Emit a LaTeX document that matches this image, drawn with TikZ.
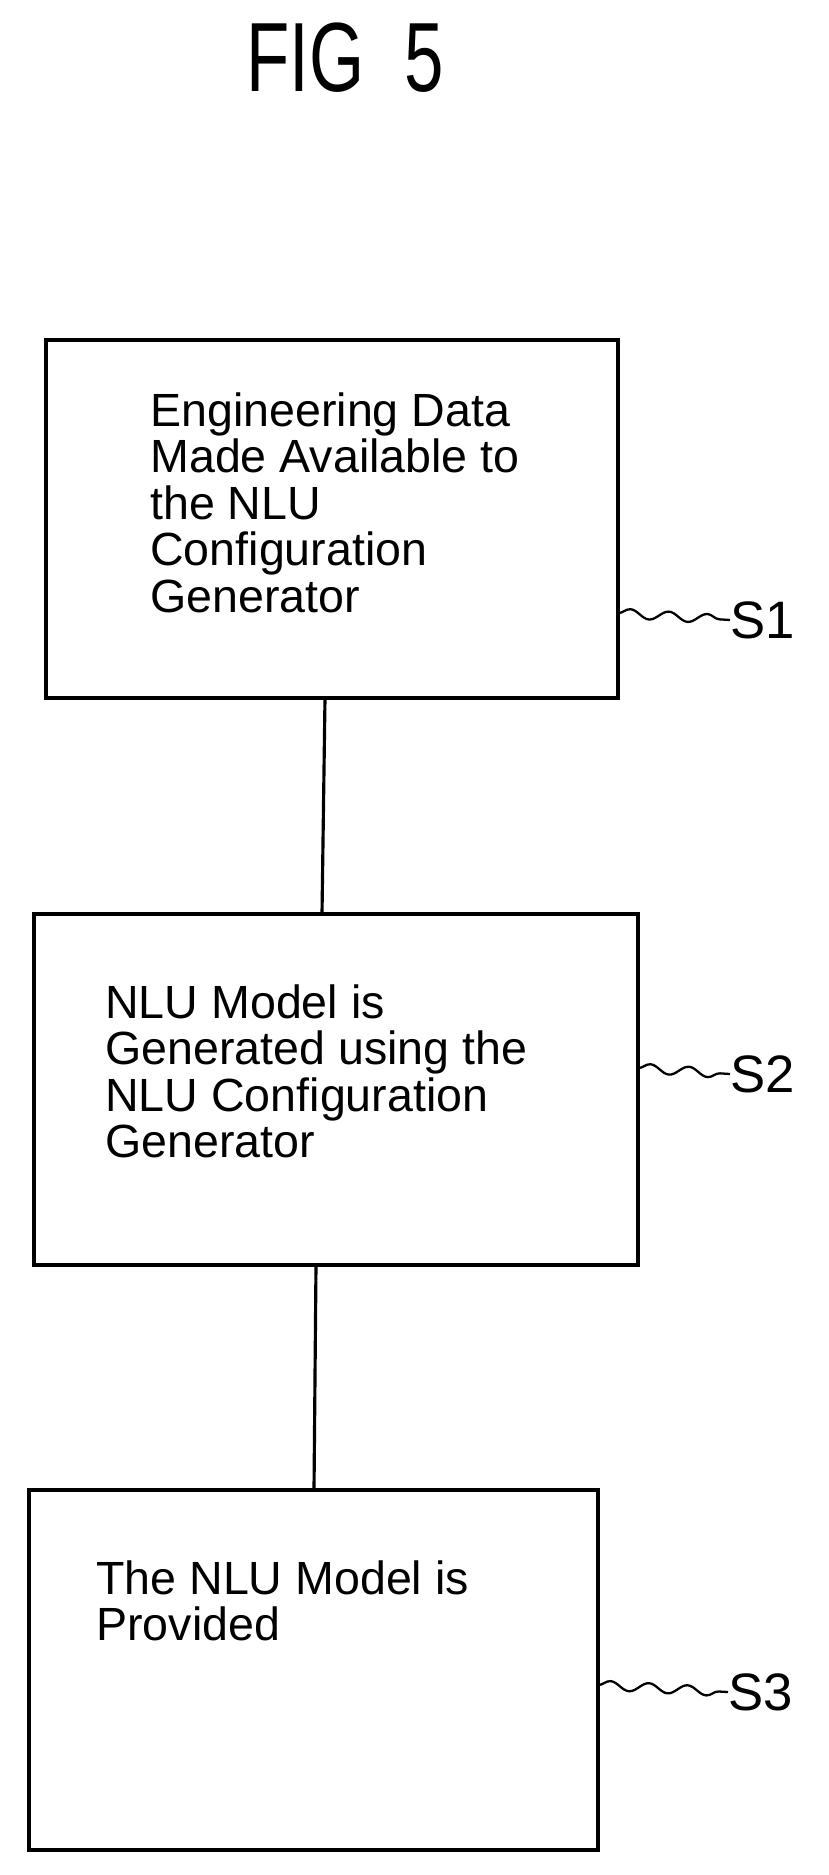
\documentclass[tikz,border=0pt]{standalone}
\usepackage{fontspec}
\setmainfont{Liberation Sans}
\usetikzlibrary{positioning,decorations.pathmorphing}

\tikzset{
  stepbox/.style={draw, line width=1.6pt, minimum width=#1, inner sep=0pt},
  steptext/.style={anchor=north west, align=left, font=\fontsize{26.5}{26.5}\selectfont, inner sep=0pt},
  steplabel/.style={anchor=west, font=\fontsize{30}{32}\selectfont, inner sep=0pt},
  wavy/.style={line width=1.3pt, decorate, decoration={snake, amplitude=2.6pt, segment length=22pt}},
  link/.style={line width=1.8pt}
}

\begin{document}
\begin{tikzpicture}[x=0.02cm, y=-0.02cm]
        \useasboundingbox (0, 0) rectangle (828, 1875);
        \node (fig) at (345, 58) {\scalebox{0.72}[1]{\fontsize{56}{60}\selectfont FIG\ \ 5}};

        \draw[link] (46, 340) rectangle (618, 698);
        \coordinate (B1bot) at (325, 698);
        \node[steptext] (T1) at (150, 392) {Engineering Data\\Made Available to\\the NLU\\Configuration\\Generator};

        \draw[link] (34, 914) rectangle (638, 1265);
        \coordinate (B2top) at (322, 914);
        \coordinate (B2bot) at (316, 1265);
        \node[steptext] (T2) at (105, 984) {NLU Model is\\Generated using the\\NLU Configuration\\Generator};

        \draw[link] (29, 1490) rectangle (598, 1850);
        \coordinate (B3top) at (314, 1490);
        \node[steptext] (T3) at (96, 1560) {The NLU Model is\\Provided};

        \draw[link] (B1bot) -- (B2top);
        \draw[link] (B2bot) -- (B3top);

        \node[steplabel] (S1) at (730, 620) {S1};
        \node[steplabel] (S2) at (730, 1074) {S2};
        \node[steplabel] (S3) at (728, 1692) {S3};
        \coordinate (W1) at (618, 613);
        \coordinate (W2) at (638, 1068);
        \coordinate (W3) at (598, 1685);
        \draw[wavy] (W1) -- (S1.west);
        \draw[wavy] (W2) -- (S2.west);
        \draw[wavy] (W3) -- (S3.west);
\end{tikzpicture}
\end{document}
